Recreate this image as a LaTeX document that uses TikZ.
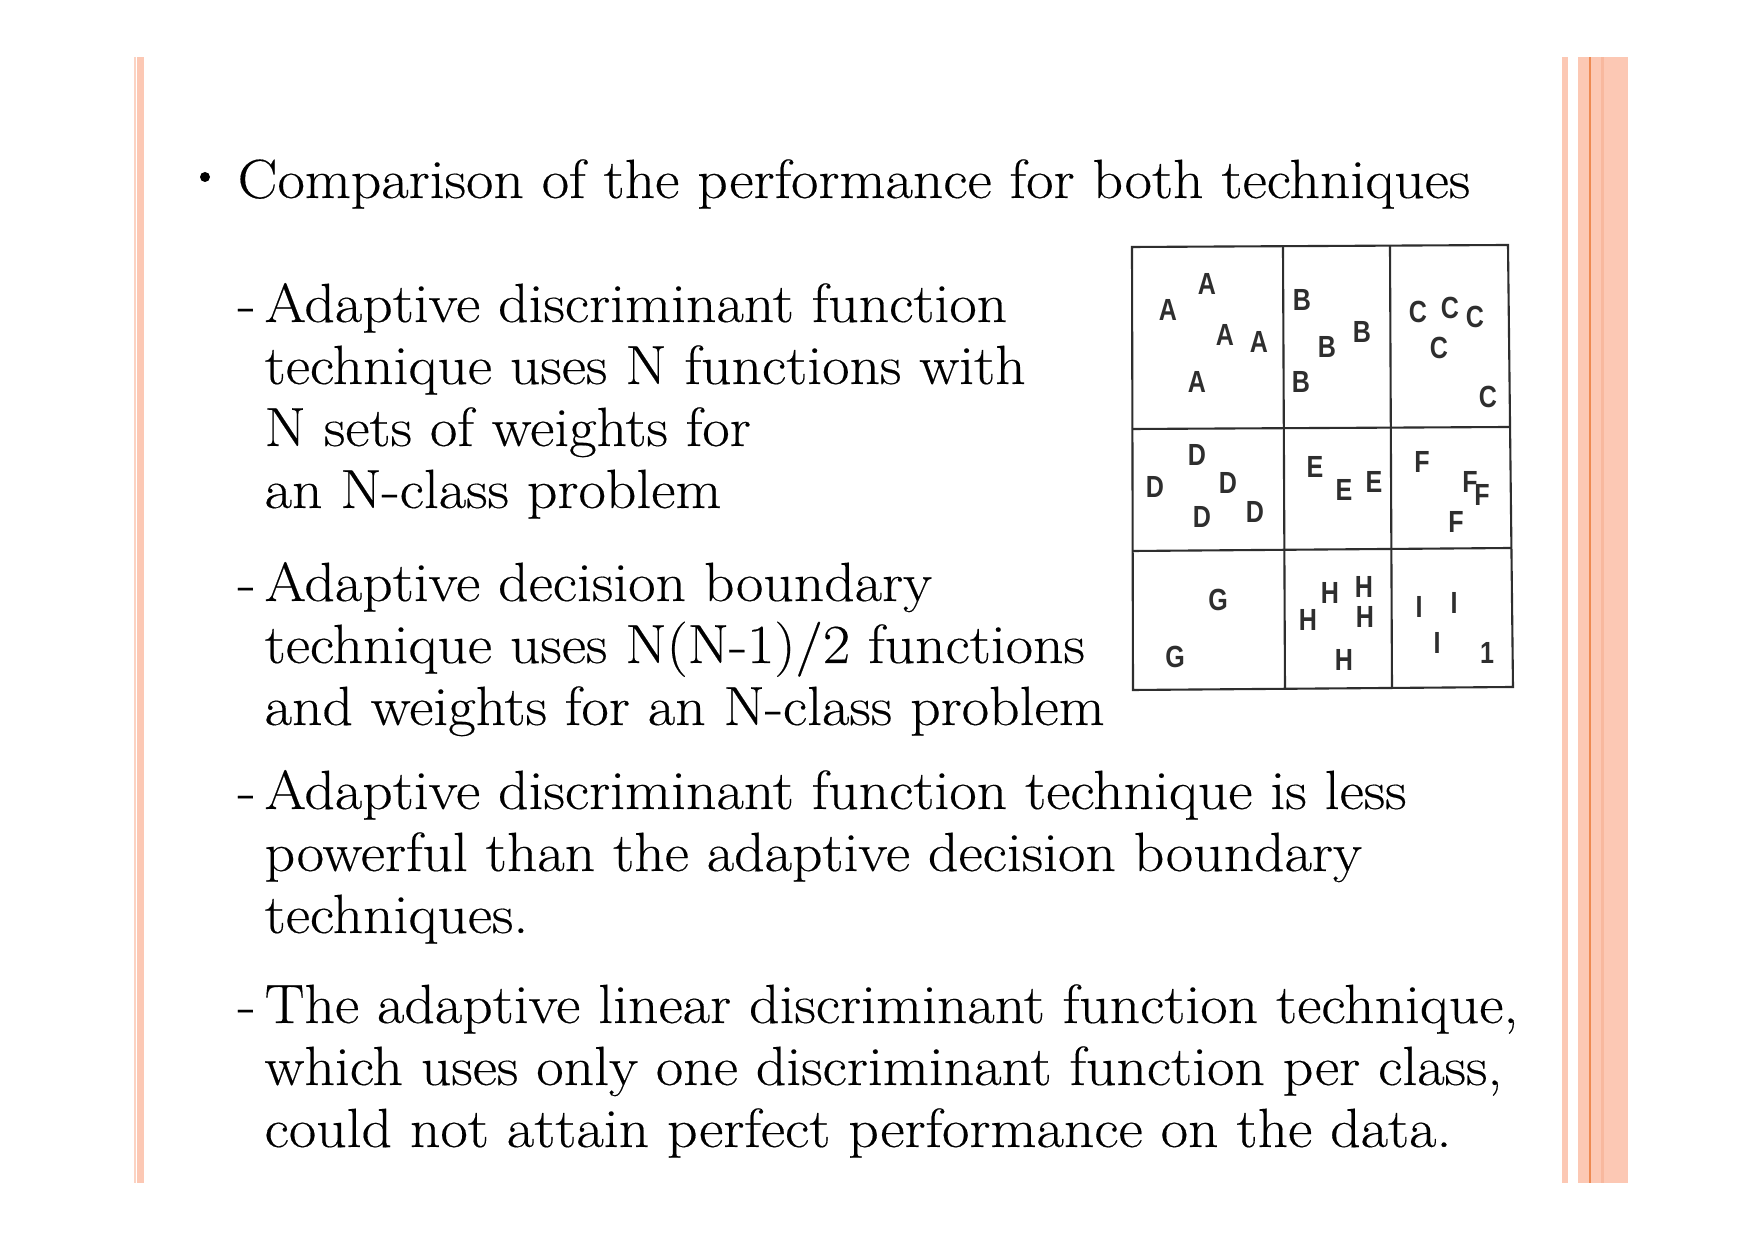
\documentclass[tikz,border=0pt]{standalone}
\usepackage{fontspec}
\setmainfont{Latin Modern Roman}[FakeStretch=1.08, FakeBold=0.3]
\newfontfamily\gridfont{Liberation Sans}[FakeStretch=0.82]
\definecolor{peach}{HTML}{FCC8B4}
\definecolor{peachlight}{HTML}{FBD3C3}
\definecolor{peachdark}{HTML}{F8B89E}
\definecolor{orangeline}{HTML}{EE8A52}
\definecolor{gridgray}{HTML}{2E2E2E}
\tikzset{
  txt/.style={anchor=base west, inner sep=0pt, font=\fontsize{15.7}{18}\selectfont},
  lab/.style={font=\gridfont\bfseries\fontsize{8.7}{10}\selectfont, text=gridgray, inner sep=0pt},
  gridline/.style={draw=gridgray, line width=0.6pt}
}
\begin{document}
\begin{tikzpicture}[x=0.1mm,y=-0.1mm]
\useasboundingbox[fill=white] (0,0) rectangle (1755,1241);
% side strips
\fill[peachlight] (134,57) rectangle (136.4,1183);
\fill[peach] (137.4,57) rectangle (144,1183);
\fill[peach] (1562,57) rectangle (1568,1183);
\fill[peach] (1578,57) rectangle (1628,1183);
\fill[orangeline] (1589.3,57) rectangle (1591,1183);
\fill[peachdark] (1601,57) rectangle (1604,1183);
% bullet and heading
\node (bul) [circle, fill=black, inner sep=0pt, minimum size=1mm] at (205,177) {};
\node (head) [txt] at (237,198) {Comparison of the performance for both techniques};
% block 1
\node (d1) [txt] at (237,322) {-};
\node (p1a) [txt] at (264,322) {Adaptive discriminant function};
\node (p1b) [txt] at (264,384) {technique uses N functions with};
\node (p1c) [txt] at (264,446) {N sets of weights for};
\node (p1d) [txt] at (264,508) {an N-class problem};
% block 2
\node (d2) [txt] at (237,601) {-};
\node (p2a) [txt] at (264,601) {Adaptive decision boundary};
\node (p2b) [txt] at (264,663) {technique uses N(N-1)/2 functions};
\node (p2c) [txt] at (264,725) {and weights for an N-class problem};
% block 3
\node (d3) [txt] at (237,809) {-};
\node (p3a) [txt] at (264,809) {Adaptive discriminant function technique is less};
\node (p3b) [txt] at (264,871) {powerful than the adaptive decision boundary};
\node (p3c) [txt] at (264,933) {techniques.};
% block 4
\node (d4) [txt] at (237,1023) {-};
\node (p4a) [txt] at (264,1023) {The adaptive linear discriminant function technique,};
\node (p4b) [txt] at (264,1085) {which uses only one discriminant function per class,};
\node (p4c) [txt] at (264,1147) {could not attain perfect performance on the data.};
% grid figure
\draw[gridline] (1132,247) -- (1508,245) -- (1513,687) -- (1133,690) -- cycle;
\draw[gridline] (1283,247) -- (1285,689);
\draw[gridline] (1390,246) -- (1392,688);
\draw[gridline] (1132,429) -- (1510,427);
\draw[gridline] (1133,551) -- (1511,548);
% letters
\node (a1) [lab] at (1168,310) {A};
\node (a2) [lab] at (1207,284) {A};
\node (a3) [lab] at (1225,335) {A};
\node (a4) [lab] at (1259,342) {A};
\node (a5) [lab] at (1197,382) {A};
\node (b1) [lab] at (1302,300) {B};
\node (b2) [lab] at (1327,347) {B};
\node (b3) [lab] at (1362,332) {B};
\node (b4) [lab] at (1301,382) {B};
\node (c1) [lab] at (1418,312) {C};
\node (c2) [lab] at (1450,308) {C};
\node (c3) [lab] at (1475,317) {C};
\node (c4) [lab] at (1439,348) {C};
\node (c5) [lab] at (1488,397) {C};
\node (e1a) [lab] at (1197,455) {D};
\node (e1b) [lab] at (1155,487) {D};
\node (e1c) [lab] at (1228,483) {D};
\node (e1d) [lab] at (1202,517) {D};
\node (e1e) [lab] at (1255,512) {D};
\node (ee1) [lab] at (1315,467) {E};
\node (ee2) [lab] at (1344,490) {E};
\node (ee3) [lab] at (1374,482) {E};
\node (f1) [lab] at (1422,462) {F};
\node (f2) [lab] at (1470,482) {F};
\node (f3) [lab] at (1482,495) {F};
\node (f4) [lab] at (1456,522) {F};
\node (g1) [lab] at (1218,600) {G};
\node (g2) [lab] at (1175,657) {G};
\node (h1) [lab] at (1330,593) {H};
\node (h2) [lab] at (1364,587) {H};
\node (h3) [lab] at (1308,620) {H};
\node (h4) [lab] at (1365,617) {H};
\node (h5) [lab] at (1344,660) {H};
\node (i1) [lab] at (1419,607) {I};
\node (i2) [lab] at (1454,603) {I};
\node (i3) [lab] at (1437,643) {I};
\node (i4) [lab] at (1487,653) {1};
\end{tikzpicture}
\end{document}
